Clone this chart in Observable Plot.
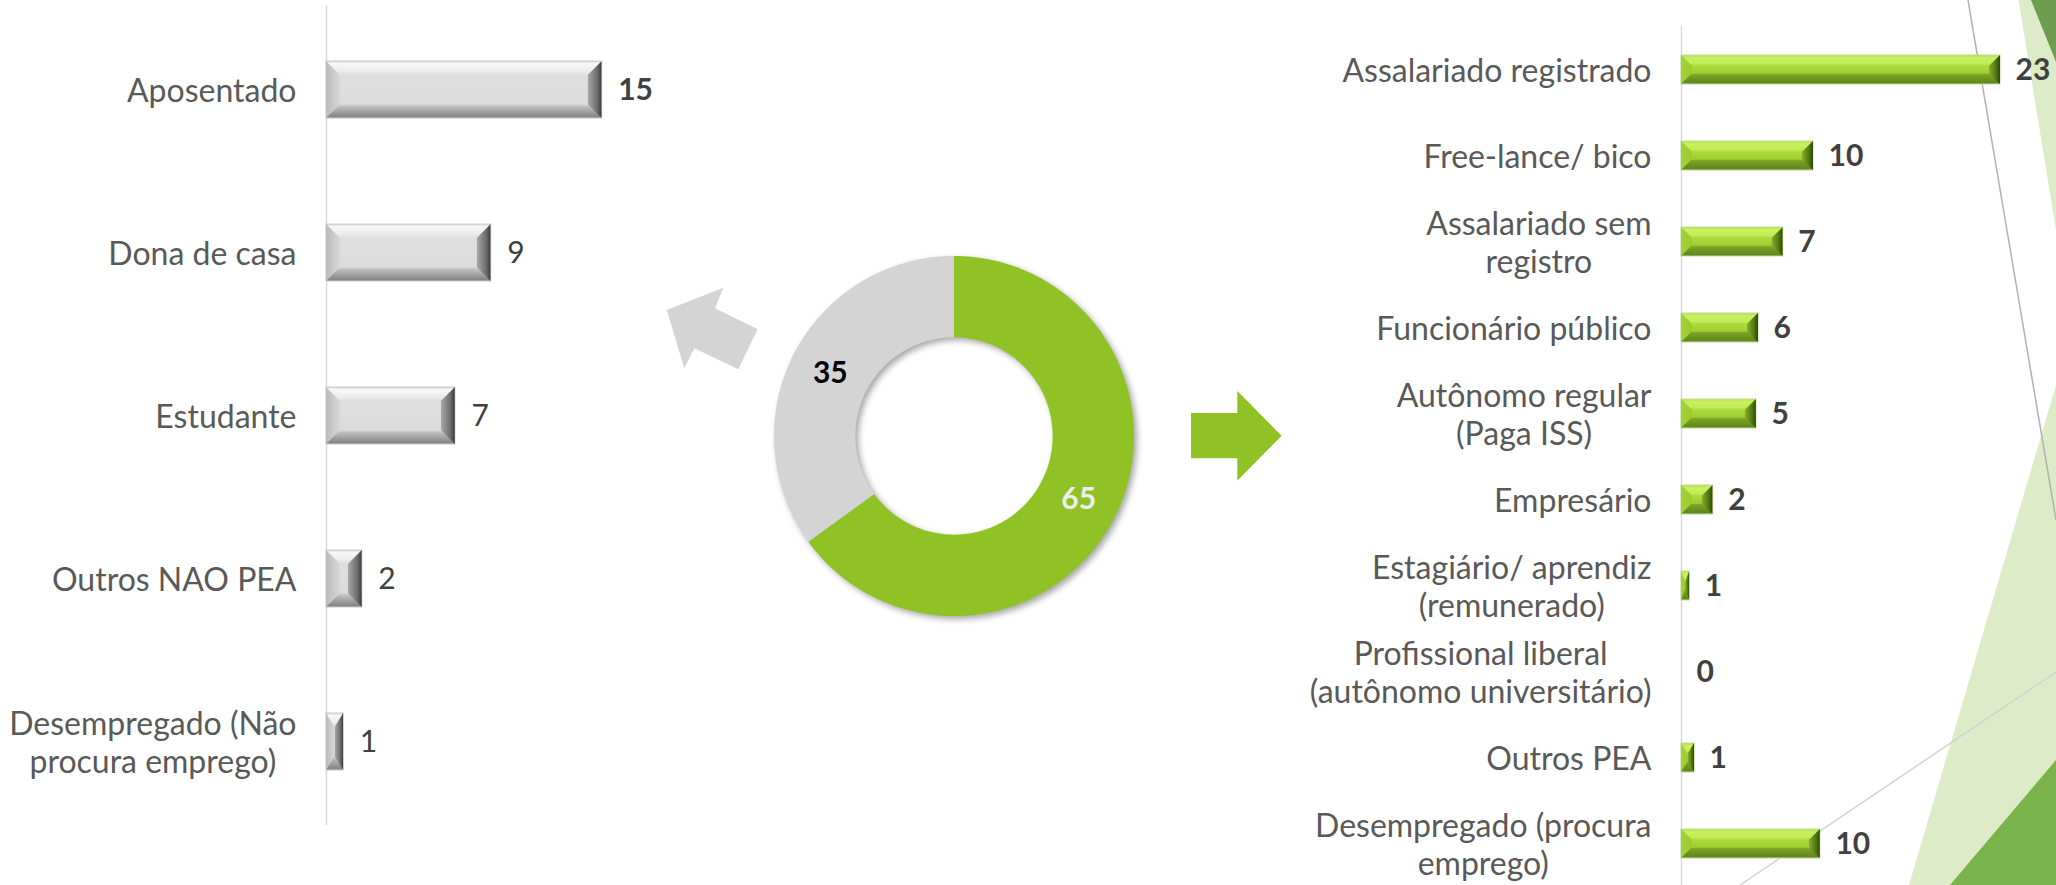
<!DOCTYPE html>
<html>
<head>
<meta charset="utf-8">
<script src="https://cdn.jsdelivr.net/npm/d3@7"></script>
<script src="https://cdn.jsdelivr.net/npm/@observablehq/plot@0.6"></script>
<style>
html, body { margin: 0; padding: 0; background: #fff; overflow: hidden; }
#stage { position: relative; width: 2056px; height: 885px; overflow: hidden; font-family: Lato, sans-serif; }
#stage > svg { position: absolute; }
</style>
</head>
<body>
<div id="stage">
<svg id="deco" width="2056" height="885" style="left:0;top:0">
  <defs>
    <linearGradient id="grayV" x1="0" y1="0" x2="0" y2="1">
      <stop offset="0" stop-color="#D0D0D0"/>
      <stop offset="0.04" stop-color="#F8F8F8"/>
      <stop offset="0.16" stop-color="#EEEEEE"/>
      <stop offset="0.245" stop-color="#DFDFDF"/>
      <stop offset="0.755" stop-color="#DCDCDC"/>
      <stop offset="0.8" stop-color="#BDBDBD"/>
      <stop offset="1" stop-color="#7E7E7E"/>
    </linearGradient>
    <linearGradient id="grayL" x1="0" y1="0" x2="1" y2="0">
      <stop offset="0" stop-color="#BBBBBB"/>
      <stop offset="1" stop-color="#D8D8D8"/>
    </linearGradient>
    <linearGradient id="grayR" x1="0" y1="0" x2="1" y2="0">
      <stop offset="0" stop-color="#AAAAAA"/>
      <stop offset="0.7" stop-color="#6A6A6A"/>
      <stop offset="1" stop-color="#383838"/>
    </linearGradient>
    <linearGradient id="greenV" x1="0" y1="0" x2="0" y2="1">
      <stop offset="0" stop-color="#B3DC52"/>
      <stop offset="0.1" stop-color="#C9F160"/>
      <stop offset="0.3" stop-color="#C3EB56"/>
      <stop offset="0.37" stop-color="#ACDB3D"/>
      <stop offset="0.63" stop-color="#9DCE30"/>
      <stop offset="0.68" stop-color="#7BA326"/>
      <stop offset="1" stop-color="#5C8219"/>
    </linearGradient>
    <linearGradient id="greenL" x1="0" y1="0" x2="1" y2="0">
      <stop offset="0" stop-color="#A2D236"/>
      <stop offset="1" stop-color="#9BCB2F"/>
    </linearGradient>
    <linearGradient id="greenR" x1="0" y1="0" x2="1" y2="0">
      <stop offset="0" stop-color="#86B02C"/>
      <stop offset="0.6" stop-color="#547916"/>
      <stop offset="1" stop-color="#2E4807"/>
    </linearGradient>
    <clipPath id="clipGrayL" clipPathUnits="objectBoundingBox"><polygon points="0,0 1,0.245 1,0.755 0,1"/></clipPath>
    <clipPath id="clipGrayR" clipPathUnits="objectBoundingBox"><polygon points="0,0.245 1,0 1,1 0,0.755"/></clipPath>
    <clipPath id="clipGreenL" clipPathUnits="objectBoundingBox"><polygon points="0,0 1,0.37 1,0.63 0,1"/></clipPath>
    <clipPath id="clipGreenR" clipPathUnits="objectBoundingBox"><polygon points="0,0.37 1,0 1,1 0,0.63"/></clipPath>
  </defs>
  <!-- slide decoration -->
  <polygon points="2018.5,0 2056,0 2056,230" fill="#DEEBC8"/>
  <polygon points="2031,0 2056,0 2056,62" fill="#6E9C50"/>
  <polygon points="2056,385 2056,885 1909,885" fill="#DEEBC8"/>
  <polygon points="2056,760 2056,885 1950,885" fill="#7AB24C"/>
  <line x1="1968" y1="0" x2="2056" y2="520" stroke="#B2B2B2" stroke-width="1.5"/>
  <line x1="1740" y1="885" x2="2056" y2="672" stroke="#D2D2D2" stroke-width="1.5"/>
  <!-- arrows -->
  <polygon points="666.7,310 723.3,287.7 715,308.3 757.7,329.3 738.3,369.3 694.3,348.3 684.3,368.3" fill="#D4D4D4"/>
  <polygon points="1191,413 1237.3,413 1237.3,391 1281.7,435.7 1237.3,480.7 1237.3,458.3 1191,458.3" fill="#90C226"/>
</svg>
</div>
<script>
// ---------- data ----------
const leftCategories = [
  "Aposentado",
  "Dona de casa",
  "Estudante",
  "Outros NAO PEA",
  "Desempregado (Não\nprocura emprego)"
];
const leftValues = [15.4, 9.2, 7.2, 2.0, 0.96];

const rightCategories = [
  "Assalariado registrado",
  "Free-lance/ bico",
  "Assalariado sem\nregistro",
  "Funcionário público",
  "Autônomo regular\n(Paga ISS)",
  "Empresário",
  "Estagiário/ aprendiz\n(remunerado)",
  "Profissional liberal\n(autônomo universitário)",
  "Outros PEA",
  "Desempregado (procura\nemprego)"
];
const rightValues = [23.2, 9.6, 7.4, 5.6, 5.45, 2.3, 0.6, 0, 0.95, 10.1];

const donutNames = ["PEA", "Não PEA"];
const donutValues = [65, 35];
const donutColors = ["#90C226", "#D4D4D4"];

// ---------- helpers ----------
const LABEL_PX = 32;
const ctx = document.createElement("canvas").getContext("2d");
function blockWidth(s, px) {
  ctx.font = `${px}px Lato`;
  return d3.max(s.split("\n"), l => ctx.measureText(l).width);
}
const stage = document.getElementById("stage");
function place(svg, left, top) {
  svg.style.position = "absolute";
  svg.style.left = left + "px";
  svg.style.top = top + "px";
  svg.style.maxWidth = "none";
  stage.appendChild(svg);
}

function barChart(cfg) {
  const data = cfg.categories.map((cat, i) => ({cat, value: cfg.values[i]}));
  const bars = data.filter(d => d.value > 0);
  const k = (cfg.width - cfg.marginLeft - cfg.marginRight) / cfg.xMax;
  const bw = cfg.bevelPx / k;
  const end = d => Math.min(bw, d.value / 2);
  const fmt = d => String(Math.round(d.value));
  const labelGap = 30;
  const svg = Plot.plot({
    width: cfg.width,
    height: cfg.height,
    marginLeft: cfg.marginLeft,
    marginRight: cfg.marginRight,
    marginTop: cfg.marginTop,
    marginBottom: cfg.marginBottom,
    x: {domain: [0, cfg.xMax], axis: null},
    y: {domain: cfg.categories, axis: null, paddingInner: cfg.pad, paddingOuter: cfg.pad / 2},
    style: {background: "transparent", overflow: "visible", fontFamily: "Lato, sans-serif"},
    marks: [
      Plot.ruleX([0], {stroke: "#D9D9D9", strokeWidth: 1.5}),
      Plot.barX(bars, {x1: 0, x2: "value", y: "cat", fill: `url(#${cfg.V})`, stroke: cfg.stroke, strokeWidth: 1}),
      Plot.barX(bars, {x1: 0, x2: end, y: "cat", fill: `url(#${cfg.L})`}),
      Plot.barX(bars, {x1: d => d.value - end(d), x2: "value", y: "cat", fill: `url(#${cfg.R})`}),
      Plot.text(data, {filter: d => cfg.bold(d), x: "value", y: "cat", text: fmt, dx: cfg.valueDx,
        textAnchor: "start", fontSize: 30, fontWeight: "bold", fill: "#404040"}),
      Plot.text(data, {filter: d => !cfg.bold(d), x: "value", y: "cat", text: fmt, dx: cfg.valueDx,
        textAnchor: "start", fontSize: 30, fontWeight: "normal", fill: "#404040"}),
      Plot.text(data, {x: d => -(labelGap + blockWidth(d.cat, LABEL_PX) / 2) / k, y: "cat", text: "cat",
        textAnchor: "middle", lineAnchor: "middle", lineHeight: 1.17, fontSize: LABEL_PX, fill: "#595959"})
    ]
  });
  const s = d3.select(svg);
  s.selectAll(`g[fill="url(#${cfg.L})"] rect`).attr("clip-path", `url(#${cfg.clipL})`);
  s.selectAll(`g[fill="url(#${cfg.R})"] rect`).attr("clip-path", `url(#${cfg.clipR})`);
  return svg;
}

function donutChart() {
  const data = donutNames.map((name, i) => ({name, value: donutValues[i]}));
  const arcs = d3.pie().sort(null).value(d => d.value)(data);
  const R = 1, r0 = 0.548, rc = (R + r0) / 2;
  const pts = arcs.flatMap(a => {
    const n = Math.max(2, Math.ceil((a.endAngle - a.startAngle) * 60));
    return d3.range(n + 1).map(i => {
      const t = a.startAngle + (a.endAngle - a.startAngle) * i / n;
      return {slice: a.data.name, ox: R * Math.sin(t), oy: R * Math.cos(t), ix: r0 * Math.sin(t), iy: r0 * Math.cos(t)};
    });
  });
  const mid = a => (a.startAngle + a.endAngle) / 2;
  const svg = Plot.plot({
    width: 400, height: 400,
    margin: 20,
    x: {domain: [-1, 1], axis: null},
    y: {domain: [-1, 1], axis: null},
    color: {domain: donutNames, range: donutColors},
    style: {background: "transparent", overflow: "visible", fontFamily: "Lato, sans-serif"},
    marks: [
      Plot.area(pts, {x1: "ox", y1: "oy", x2: "ix", y2: "iy", z: "slice", fill: "slice", curve: "linear"}),
      Plot.text(arcs, {filter: a => a.data.name === donutNames[0], x: a => rc * Math.sin(mid(a)), y: a => rc * Math.cos(mid(a)),
        text: a => String(a.data.value), fontSize: 30, fontWeight: "bold", fill: "#EEEEEE"}),
      Plot.text(arcs, {filter: a => a.data.name === donutNames[1], x: a => rc * Math.sin(mid(a)), y: a => rc * Math.cos(mid(a)),
        text: a => String(a.data.value), fontSize: 30, fontWeight: "bold", fill: "#000000"})
    ]
  });
  let g = d3.select(svg).selectAll('g[aria-label="area"]');
  if (g.empty()) g = d3.select(svg).selectAll("path").filter(function() { return this.parentNode.tagName === "g"; });
  g.style("filter", "drop-shadow(3px 3px 3px rgba(0,0,0,0.35))");
  return svg;
}

function draw() {
  const left = barChart({
    categories: leftCategories, values: leftValues,
    width: 700, height: 885, marginLeft: 326, marginRight: 16, marginTop: 5.5, marginBottom: 60,
    xMax: 20, pad: 0.65, bevelPx: 14, valueDx: 16,
    V: "grayV", L: "grayL", R: "grayR", clipL: "clipGrayL", clipR: "clipGrayR", stroke: "#CBCBCB",
    bold: d => d.cat === leftCategories[0]
  });
  place(left, 0, 0);

  const donut = donutChart();
  place(donut, 753.7, 236);

  const right = barChart({
    categories: rightCategories, values: rightValues,
    width: 906, height: 890, marginLeft: 531, marginRight: 31.25, marginTop: 25.4, marginBottom: 1.9,
    xMax: 25, pad: 0.658, bevelPx: 11, valueDx: 15,
    V: "greenV", L: "greenL", R: "greenR", clipL: "clipGreenL", clipR: "clipGreenR", stroke: "#C4DC9A",
    bold: d => true
  });
  place(right, 1150, 0);
}

(document.fonts && document.fonts.load ? document.fonts.load("32px Lato").catch(() => {}) : Promise.resolve())
  .then(draw, draw);
</script>
</body>
</html>
